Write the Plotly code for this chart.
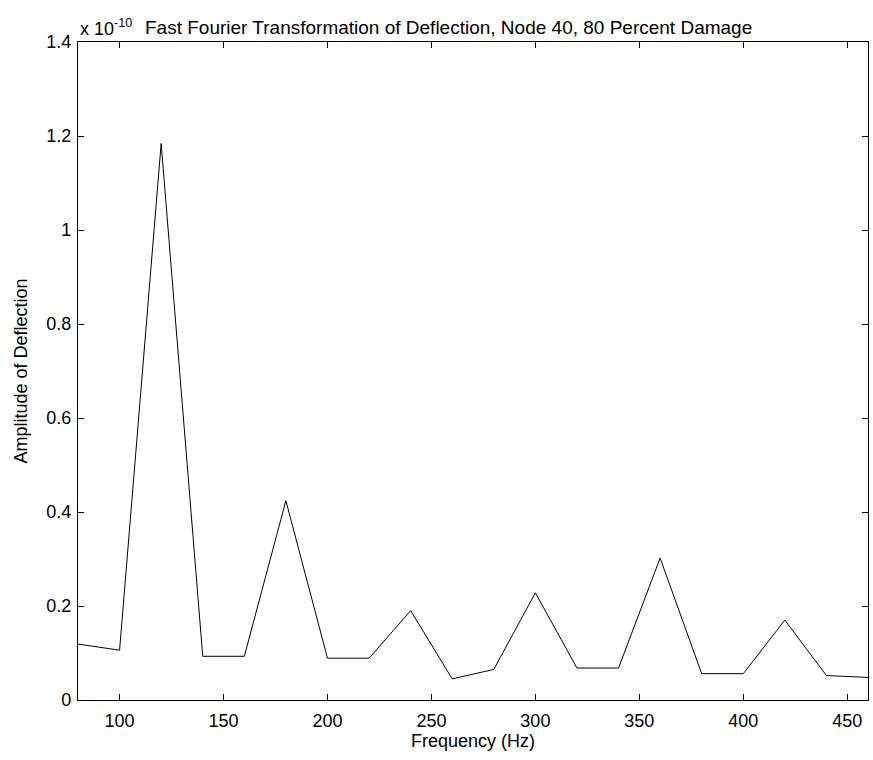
import plotly.graph_objects as go

freq = [80, 100, 120, 140, 160, 180, 200, 220, 240, 260, 280, 300, 320, 340, 360, 380, 400, 420, 440, 460]
amp_e10 = [0.119, 0.106, 1.184, 0.093, 0.093, 0.424, 0.089, 0.089, 0.190, 0.045, 0.065, 0.228,
           0.068, 0.068, 0.302, 0.056, 0.056, 0.170, 0.052, 0.048]
xticks = [100, 150, 200, 250, 300, 350, 400, 450]
yticks = [0, 0.2, 0.4, 0.6, 0.8, 1.0, 1.2, 1.4]
yticklabels = ["0", "0.2", "0.4", "0.6", "0.8", "1", "1.2", "1.4"]

FONT = "Liberation Sans, Arial, sans-serif"
FS = 18

fig = go.Figure()
fig.add_trace(go.Scatter(x=freq, y=amp_e10, mode="lines",
                         line=dict(color="black", width=1), hoverinfo="skip"))

axis_common = dict(showgrid=False, zeroline=False, showline=True, linecolor="black",
                   linewidth=1.3, mirror="ticks", ticks="inside", ticklen=6,
                   tickcolor="black", tickwidth=1,
                   tickfont=dict(family=FONT, size=FS, color="black"))

fig.update_xaxes(range=[80, 460], tickvals=xticks, ticktext=[str(v) for v in xticks],
                 ticklabelstandoff=4,
                 title=dict(text="Frequency (Hz)", font=dict(family=FONT, size=FS, color="black"),
                            standoff=3), **axis_common)
fig.update_yaxes(range=[0, 1.4], tickvals=yticks, ticktext=yticklabels,
                 ticklabelstandoff=2,
                 title=dict(text="Amplitude of Deflection", font=dict(family=FONT, size=FS, color="black"),
                            standoff=13), **axis_common)

fig.add_annotation(xref="paper", yref="paper", x=0, y=1, xanchor="left", yanchor="bottom",
                   yshift=1, showarrow=False,
                   text="x 10<sup>-10</sup>", font=dict(family=FONT, size=FS, color="black"))
fig.add_annotation(xref="paper", yref="paper", x=0.469, y=1, xanchor="center", yanchor="bottom",
                   yshift=2, showarrow=False,
                   text="Fast Fourier Transformation of Deflection, Node 40, 80 Percent Damage",
                   font=dict(family=FONT, size=19, color="black"))

fig.update_layout(width=873, height=760, margin=dict(l=78, r=5, t=42, b=60),
                  paper_bgcolor="white", plot_bgcolor="white", showlegend=False,
                  font=dict(family=FONT, size=FS, color="black"))

fig.write_html("out.html")
